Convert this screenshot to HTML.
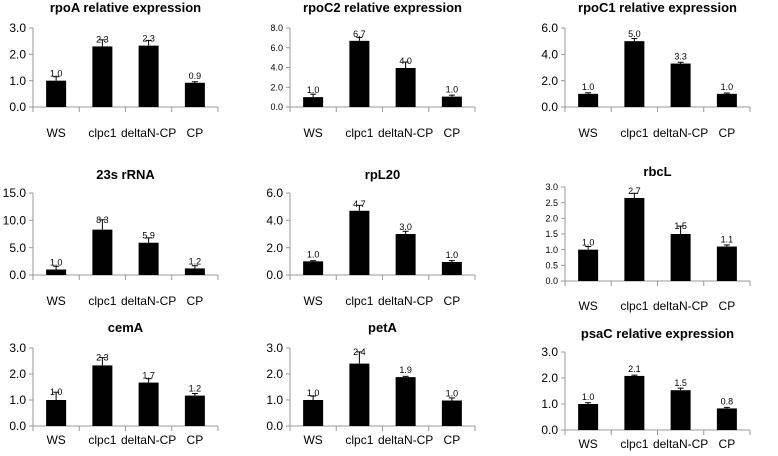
<!DOCTYPE html>
<html><head><meta charset="utf-8"><style>
body{margin:0;background:#fff;width:778px;height:451px;overflow:hidden}
svg{font-family:"Liberation Sans",sans-serif}
</style></head><body>
<svg id="c" width="778" height="451"></svg>
<script>
const categories=["WS","clpc1","deltaN-CP","CP"];
const titles=["rpoA relative expression","rpoC2 relative expression","rpoC1 relative expression","23s rRNA","rpL20","rbcL","cemA","petA","psaC relative expression"];
const rpoA=[1.0,2.3,2.33,0.92], rpoAErr=[0.15,0.25,0.2,0.04];
const rpoC2=[1.0,6.7,3.95,1.05], rpoC2Err=[0.3,0.35,0.6,0.15];
const rpoC1=[1.0,5.0,3.3,1.0], rpoC1Err=[0.08,0.2,0.1,0.06];
const rRNA23s=[1.0,8.3,5.9,1.2], rRNA23sErr=[0.6,1.8,0.9,0.5];
const rpL20=[1.0,4.7,3.0,0.95], rpL20Err=[0.05,0.4,0.2,0.1];
const rbcL=[1.0,2.65,1.5,1.1], rbcLErr=[0.1,0.15,0.25,0.05];
const cemA=[1.0,2.33,1.67,1.17], cemAErr=[0.3,0.3,0.15,0.08];
const petA=[1.0,2.4,1.88,0.98], petAErr=[0.15,0.45,0.03,0.1];
const psaC=[1.0,2.08,1.53,0.83], psaCErr=[0.05,0.03,0.08,0.04];
const valueLabels=[["1.0","2.3","2.3","0.9"],["1.0","6.7","4.0","1.0"],["1.0","5.0","3.3","1.0"],["1.0","8.3","5.9","1.2"],["1.0","4.7","3.0","1.0"],["1.0","2.7","1.5","1.1"],["1.0","2.3","1.7","1.2"],["1.0","2.4","1.9","1.0"],["1.0","2.1","1.5","0.8"]];
const series=[rpoA,rpoC2,rpoC1,rRNA23s,rpL20,rbcL,cemA,petA,psaC];
const errs=[rpoAErr,rpoC2Err,rpoC1Err,rRNA23sErr,rpL20Err,rbcLErr,cemAErr,petAErr,psaCErr];
const yMax=[3,8,6,15,6,3,3,3,3];
const yStep=[1,2,2,5,2,0.5,1,1,1];
// layout
const L=[
 {x:33,top:28,bot:107,ty:12,ly:137,f:12},{x:290,top:28,bot:107,ty:12,ly:137,f:9},{x:565,top:28,bot:107,ty:12,ly:137,f:12},
 {x:33,top:193,bot:275,ty:179,ly:305,f:12},{x:290,top:193,bot:275,ty:179,ly:305,f:12},{x:565,top:187,bot:281,ty:176,ly:310,f:9},
 {x:33,top:348,bot:426,ty:332,ly:444,f:12},{x:290,top:348,bot:426,ty:332,ly:444,f:12},{x:565,top:352,bot:430,ty:338,ly:448,f:12}];
const svg=document.getElementById('c');const NS="http://www.w3.org/2000/svg";
function mk(t,a,p){const e=document.createElementNS(NS,t);for(const k in a)e.setAttribute(k,a[k]);(p||svg).appendChild(e);return e;}
series.forEach((vals,i)=>{
 const l=L[i];const w=185;
 const g=mk('g',{});
 
 
 const y=v=>l.bot-(v/yMax[i])*(l.bot-l.top);
 const xc=j=>l.x+(j+0.5)*w/4;
 const t=mk('text',{x:l.x+w/2,y:l.ty,'text-anchor':'middle','font-size':13,'font-weight':'bold'},g);t.textContent=titles[i];
 
 
 mk('line',{x1:l.x,y1:l.top,x2:l.x,y2:l.bot,stroke:'#999'},g);
 mk('line',{x1:l.x,y1:l.bot,x2:l.x+w,y2:l.bot,stroke:'#999'},g);
 for(let v=0;v<=yMax[i]+1e-9;v+=yStep[i]){
  mk('line',{x1:l.x-4,y1:y(v),x2:l.x,y2:y(v),stroke:'#999'},g);
  const tx=mk('text',{x:l.x-7,y:y(v)+l.f*0.35,'text-anchor':'end','font-size':l.f},g);tx.textContent=v.toFixed(1);
  
  
 }
 for(let j=0;j<=4;j++)mk('line',{x1:l.x+j*w/4,y1:l.bot,x2:l.x+j*w/4,y2:l.bot+5,stroke:'#999'},g);
 vals.forEach((v,j)=>{
  const b=mk('rect',{x:xc(j)-10,y:y(v),width:20,height:l.bot-y(v),fill:'#000'},g);
  
  
  const e=errs[i][j];
  mk('line',{x1:xc(j),y1:y(v),x2:xc(j),y2:y(v+e),stroke:'#000'},g);
  mk('line',{x1:xc(j)-3,y1:y(v+e),x2:xc(j)+3,y2:y(v+e),stroke:'#000'},g);
  const vl=mk('text',{x:xc(j),y:Math.min(y(v+e)+3,y(v)-4),'text-anchor':'middle','font-size':9},g);vl.textContent=valueLabels[i][j];
  
  
  const cl=mk('text',{x:xc(j),y:l.ly,'text-anchor':'middle','font-size':12},g);cl.textContent=categories[j];
  
  
 });
});
</script>
</body></html>
